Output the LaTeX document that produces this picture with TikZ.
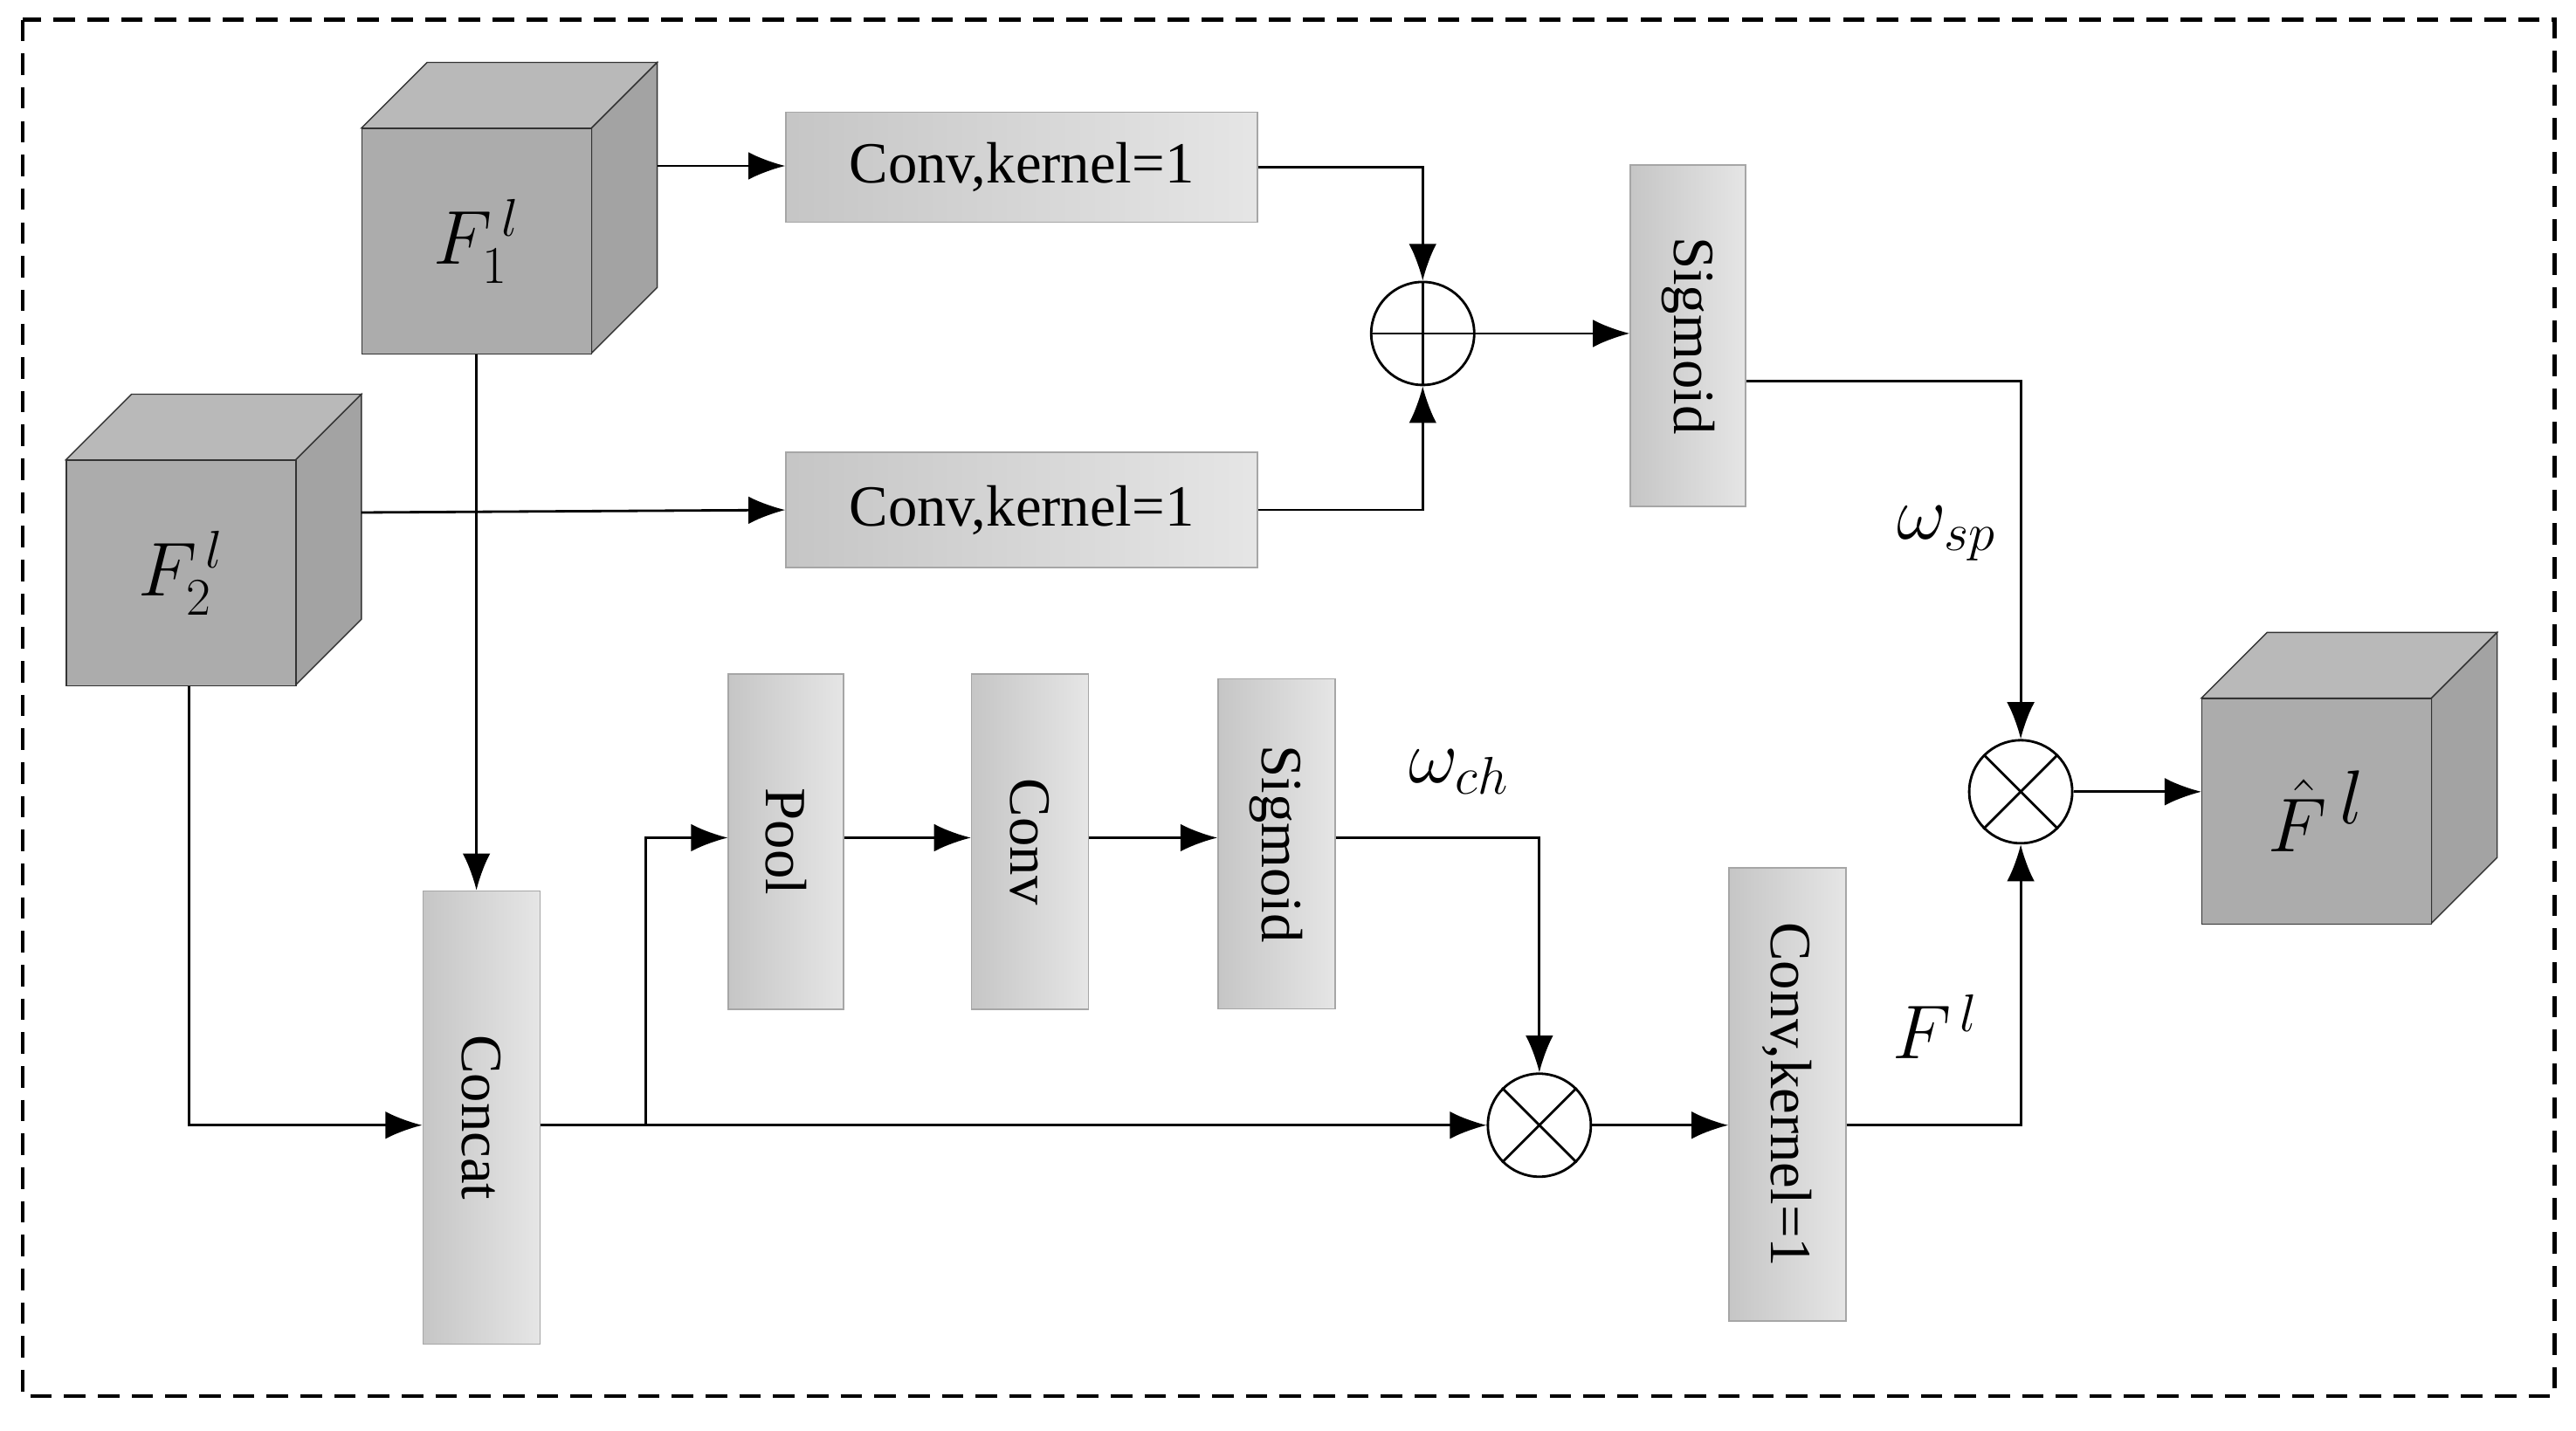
\documentclass[tikz,border=0pt]{standalone}
\usepackage{fontspec}
\setmainfont{Liberation Serif}
\usepackage{amsmath}
\usetikzlibrary{shapes, calc, arrows.meta}
\begin{document}
\begin{tikzpicture}[x=0.01881cm, y=-0.01881cm, >={Latex[length=12pt,width=9pt]}, font=\fontsize{19}{22}\selectfont]
			\tikzstyle{block}=[
			draw=gray!70,
			left color=gray!45,
			right color=gray!20,
			inner sep=0pt,
			anchor=north west
			]
			\tikzstyle{op}=[
			draw,
			circle,
			thick,
			minimum size=1.18cm,
			inner sep=0pt
			]
			\tikzstyle{flow}=[->, thick]
			\useasboundingbox (0,0) rectangle (1568,871);
			\draw[dashed, very thick, dash pattern=on 7pt off 4pt] (14,12) rectangle (1555,850);
			% cubes
			\foreach \name/\x/\y/\txt in {cubeA/220/78/{\fontsize{26}{28}\selectfont$F_1^{\,l}$}, cubeB/40/280/{\fontsize{26}{28}\selectfont$F_2^{\,l}$}, cubeC/1340/425/{\fontsize{38}{40}\selectfont$\hat{F}^{\,l}$}} {
				\fill[gray!55, draw=gray!40!black] (\x,\y) -- ++(40,-40) -- ++(140,0) -- ++(-40,40) -- cycle;
				\fill[gray!80!black!60, draw=gray!40!black] (\x+140,\y) -- ++(40,-40) -- ++(0,137) -- ++(-40,40) -- cycle;
				\node[draw=gray!40!black, fill=gray!65, minimum width=2.63cm, minimum height=2.58cm, anchor=north west, inner sep=0pt] (\name) at (\x,\y) {\txt};
			}
			% blocks
			\node[block, minimum width=5.4cm, minimum height=1.26cm] (convA) at (478,68) {Conv,kernel=1};
			\node[block, minimum width=5.4cm, minimum height=1.32cm] (convB) at (478,275) {Conv,kernel=1};
			\node[block, minimum width=1.32cm, minimum height=3.91cm] (sigA) at (992,100) {};
			\node[rotate=-90] at (sigA) {Sigmoid};
			\node[block, minimum width=1.32cm, minimum height=3.84cm] (pool) at (443,410) {};
			\node[rotate=-90] at (pool) {Pool};
			\node[block, minimum width=1.34cm, minimum height=3.84cm] (conv) at (591,410) {};
			\node[rotate=-90] at (conv) {Conv};
			\node[block, minimum width=1.34cm, minimum height=3.78cm] (sigB) at (741,413) {};
			\node[rotate=-90] at (sigB) {Sigmoid};
			\node[block, minimum width=1.34cm, minimum height=5.19cm] (concat) at (257,542) {};
			\node[rotate=-90] at (concat) {Concat};
			\node[block, minimum width=1.34cm, minimum height=5.19cm] (convC) at (1052,528) {};
			\node[rotate=-90] at (convC) {Conv,kernel=1};
			% operators
			\node[op] (add) at (866,203) {};
			\draw[thick] (add.north) -- (add.south) (add.west) -- (add.east);
			\node[op] (mulB) at (937,685) {};
			\draw[thick] (mulB.north west) -- (mulB.south east) (mulB.north east) -- (mulB.south west);
			\node[op] (mulA) at (1230,482) {};
			\draw[thick] (mulA.north west) -- (mulA.south east) (mulA.north east) -- (mulA.south west);
			% connections
			\coordinate (outA) at (400,101);
			\coordinate (outB) at (220,312);
			\draw[flow] (outA) -- (convA.west |- outA);
			\draw[flow] (convA.east) -| (add.north);
			\draw[flow] (outB) -- (convB.west);
			\draw[flow] (convB.east) -| (add.south);
			\draw[flow] (add.east) -- (sigA.west |- add.east);
			\draw[flow] (sigA.east |- 0,232) -| (mulA.north);
			\draw[flow] (cubeA.south -| 290,0) -- (concat.north -| 290,0);
			\draw[flow] (cubeB.south -| 115,0) |- (concat.west |- 0,685);
			\draw[flow] (concat.east |- 0,685) -- (mulB.west);
			\coordinate (split) at (393,685);
			\draw[flow] (split) |- (pool.west |- 0,510);
			\draw[flow] (pool.east |- 0,510) -- (conv.west |- 0,510);
			\draw[flow] (conv.east |- 0,510) -- (sigB.west |- 0,510);
			\draw[flow] (sigB.east |- 0,510) -| (mulB.north);
			\draw[flow] (mulB.east) -- (convC.west |- mulB.east);
			\draw[flow] (convC.east |- 0,685) -| (mulA.south);
			\draw[flow] (mulA.east) -- (cubeC.west |- mulA.east);
			% labels
			\node (wsp) at (1185,325) {\fontsize{26}{28}\selectfont$\omega_{sp}$};
			\node (wch) at (888,470) {\fontsize{26}{28}\selectfont$\omega_{ch}$};
			\node (fl) at (1178,625) {\fontsize{26}{28}\selectfont$F^{\,l}$};
		\end{tikzpicture}
\end{document}
